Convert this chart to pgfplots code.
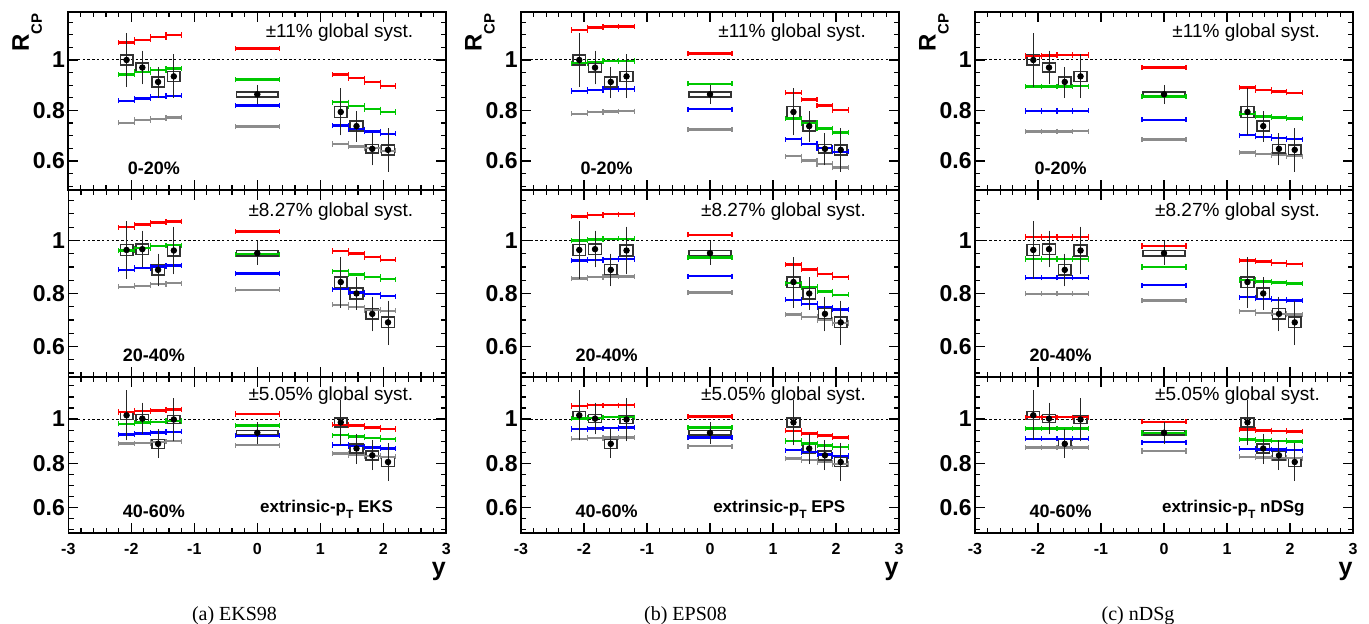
\documentclass[border=0pt]{standalone}
\usepackage{pgfplots}
\usepackage{pgfplotstable}
\pgfplotsset{compat=1.18}
\usepackage{fontspec}
\setmainfont{Liberation Sans}
\newfontfamily\capfont{Liberation Serif}

\definecolor{mred}{RGB}{255,0,0}
\definecolor{mgreen}{RGB}{0,200,0}
\definecolor{mblue}{RGB}{0,0,255}
\definecolor{mgray}{RGB}{140,140,140}

% ---------- data (same in every column) ----------
\pgfplotstableread{
x y ep em bx by
-2.075 1.000 0.097 0.099 0.10 0.019
-1.825 0.970 0.058 0.058 0.10 0.018
-1.575 0.913 0.050 0.055 0.10 0.020
-1.325 0.935 0.078 0.077 0.10 0.020
0      0.864 0.029 0.030 0.33 0.010
1.325  0.794 0.085 0.084 0.10 0.022
1.575  0.738 0.050 0.053 0.10 0.020
1.825  0.648 0.054 0.057 0.10 0.017
2.075  0.644 0.077 0.077 0.10 0.020
}\dataA
\pgfplotstableread{
x y ep em bx by
-2.075 0.964 0.100 0.101 0.10 0.020
-1.825 0.967 0.062 0.060 0.10 0.020
-1.575 0.889 0.053 0.054 0.10 0.020
-1.325 0.962 0.082 0.082 0.10 0.020
0      0.952 0.037 0.035 0.33 0.010
1.325  0.843 0.085 0.088 0.10 0.020
1.575  0.800 0.053 0.054 0.10 0.020
1.825  0.723 0.057 0.058 0.10 0.020
2.075  0.691 0.074 0.077 0.10 0.020
}\dataB
\pgfplotstableread{
x y ep em bx by
-2.075 1.017 0.103 0.103 0.10 0.018
-1.825 1.002 0.062 0.061 0.10 0.018
-1.575 0.888 0.057 0.055 0.10 0.020
-1.325 0.998 0.085 0.089 0.10 0.018
0      0.938 0.038 0.041 0.33 0.011
1.325  0.985 0.089 0.094 0.10 0.020
1.575  0.867 0.057 0.061 0.10 0.020
1.825  0.836 0.059 0.057 0.10 0.020
2.075  0.806 0.076 0.077 0.10 0.020
}\dataC

% ---------- model curves: EKS ----------
\pgfplotstableread{
x ex r g b k
-2.075 0.125 1.070 0.942 0.838 0.751
-1.825 0.125 1.080 0.952 0.847 0.762
-1.575 0.125 1.091 0.960 0.854 0.767
-1.325 0.125 1.099 0.966 0.858 0.772
0      0.35  1.046 0.922 0.820 0.736
1.325  0.125 0.942 0.833 0.740 0.667
1.575  0.125 0.928 0.818 0.726 0.657
1.825  0.125 0.912 0.805 0.717 0.651
2.075  0.125 0.897 0.794 0.708 0.640
}\mAa
\pgfplotstableread{
x ex r g b k
-2.075 0.125 1.050 0.962 0.889 0.825
-1.825 0.125 1.060 0.971 0.896 0.829
-1.575 0.125 1.067 0.980 0.902 0.835
-1.325 0.125 1.072 0.982 0.906 0.839
0      0.35  1.034 0.948 0.875 0.814
1.325  0.125 0.960 0.884 0.816 0.757
1.575  0.125 0.951 0.872 0.804 0.748
1.825  0.125 0.937 0.862 0.797 0.738
2.075  0.125 0.927 0.854 0.790 0.735
}\mBa
\pgfplotstableread{
x ex r g b k
-2.075 0.125 1.032 0.979 0.930 0.889
-1.825 0.125 1.036 0.985 0.935 0.891
-1.575 0.125 1.039 0.988 0.939 0.897
-1.325 0.125 1.044 0.991 0.942 0.900
0      0.35  1.023 0.971 0.924 0.882
1.325  0.125 0.974 0.927 0.883 0.844
1.575  0.125 0.970 0.921 0.877 0.838
1.825  0.125 0.962 0.915 0.871 0.833
2.075  0.125 0.955 0.909 0.867 0.829
}\mCa
% ---------- model curves: EPS ----------
\pgfplotstableread{
x ex r g b k
-2.075 0.125 1.119 0.987 0.877 0.787
-1.825 0.125 1.128 0.993 0.881 0.793
-1.575 0.125 1.132 0.996 0.885 0.796
-1.325 0.125 1.133 0.996 0.885 0.797
0      0.35  1.026 0.906 0.805 0.725
1.325  0.125 0.870 0.769 0.686 0.619
1.575  0.125 0.843 0.750 0.668 0.602
1.825  0.125 0.820 0.729 0.651 0.588
2.075  0.125 0.802 0.713 0.636 0.574
}\mAb
\pgfplotstableread{
x ex r g b k
-2.075 0.125 1.090 1.000 0.924 0.856
-1.825 0.125 1.096 1.004 0.926 0.861
-1.575 0.125 1.099 1.006 0.929 0.864
-1.325 0.125 1.099 1.006 0.930 0.864
0      0.35  1.021 0.936 0.865 0.803
1.325  0.125 0.909 0.839 0.776 0.721
1.575  0.125 0.890 0.824 0.761 0.711
1.825  0.125 0.873 0.808 0.748 0.700
2.075  0.125 0.861 0.795 0.739 0.689
}\mBb
\pgfplotstableread{
x ex r g b k
-2.075 0.125 1.059 1.003 0.955 0.911
-1.825 0.125 1.063 1.006 0.958 0.914
-1.575 0.125 1.063 1.008 0.959 0.916
-1.325 0.125 1.063 1.008 0.961 0.916
0      0.35  1.012 0.962 0.917 0.877
1.325  0.125 0.947 0.901 0.859 0.821
1.575  0.125 0.935 0.890 0.850 0.814
1.825  0.125 0.925 0.880 0.839 0.805
2.075  0.125 0.916 0.874 0.833 0.797
}\mCb
% ---------- model curves: nDSg ----------
\pgfplotstableread{
x ex r g b k
-2.075 0.125 1.016 0.895 0.798 0.717
-1.825 0.125 1.018 0.895 0.798 0.717
-1.575 0.125 1.020 0.895 0.798 0.717
-1.325 0.125 1.020 0.896 0.799 0.718
0      0.35  0.970 0.855 0.763 0.685
1.325  0.125 0.891 0.787 0.702 0.634
1.575  0.125 0.881 0.776 0.696 0.627
1.825  0.125 0.875 0.772 0.690 0.623
2.075  0.125 0.870 0.769 0.686 0.619
}\mAc
\pgfplotstableread{
x ex r g b k
-2.075 0.125 1.013 0.930 0.859 0.799
-1.825 0.125 1.013 0.930 0.859 0.799
-1.575 0.125 1.013 0.930 0.859 0.799
-1.325 0.125 1.013 0.930 0.859 0.799
0      0.35  0.979 0.900 0.831 0.773
1.325  0.125 0.925 0.851 0.786 0.733
1.575  0.125 0.920 0.845 0.780 0.726
1.825  0.125 0.915 0.841 0.776 0.723
2.075  0.125 0.910 0.838 0.774 0.720
}\mBc
\pgfplotstableread{
x ex r g b k
-2.075 0.125 1.008 0.958 0.911 0.872
-1.825 0.125 1.008 0.958 0.911 0.872
-1.575 0.125 1.008 0.958 0.911 0.872
-1.325 0.125 1.008 0.958 0.911 0.872
0      0.35  0.988 0.937 0.895 0.856
1.325  0.125 0.952 0.907 0.866 0.829
1.575  0.125 0.949 0.904 0.863 0.826
1.825  0.125 0.946 0.902 0.862 0.824
2.075  0.125 0.944 0.899 0.859 0.823
}\mCc

\pgfplotsset{
  rcpaxis/.style={
    scale only axis, width=189pt, anchor=north west,
    xmin=-3, xmax=3, ymin=0.485, ymax=1.19,
    xtick={-3,-2,-1,0,1,2,3}, minor x tick num=4,
    ytick={0.4,0.6,0.8,1,1.2}, minor y tick num=3,
    tick align=inside, xtick pos=both, ytick pos=both,
    xticklabel pos=lower, yticklabel pos=left,
    major tick length=5pt, minor tick length=2.6pt,
    axis line style={line width=0.8pt},
    every tick/.append style={line width=0.6pt, black},
    clip mode=individual,
    /pgf/number format/assume math mode=true,
    yticklabel style={font=\fontsize{11.5}{12}\selectfont\bfseries, inner sep=1.5pt},
    xticklabel style={font=\fontsize{8}{9}\selectfont\bfseries, inner sep=0pt, yshift=-5pt},
  },
  model/.style={draw=none, mark=none, forget plot,
    error bars/.cd, x dir=both, x explicit, error mark=|,
    error bar style={draw=#1, line width=1.2pt, line cap=butt},
    error mark options={draw=#1, line width=0.6pt, mark size=1.3pt}},
  boxh/.style={draw=none, mark=none, forget plot,
    error bars/.cd, x dir=both, x explicit, error mark=none,
    error bar style={draw=black!80, line width=0.75pt, line cap=rect}},
  boxv/.style={draw=none, mark=none, forget plot,
    error bars/.cd, y dir=both, y explicit, error mark=none,
    error bar style={draw=black!80, line width=0.75pt, line cap=rect}},
  datapts/.style={black, only marks, mark=*, mark size=1.4pt, forget plot,
    error bars/.cd, y dir=both, y explicit,
    error bar style={black!85, line width=0.5pt},
    error mark options={black!85, line width=0.5pt, mark size=1.1pt}},
}

\newcommand{\panelcontent}[2]{%
  \addplot[black, line width=0.5pt, dash pattern=on 1.2pt off 1.2pt, forget plot] coordinates {(-3,1) (3,1)};
  \addplot[boxh] table[x=x, y expr=\thisrow{y}+\thisrow{by}, x error=bx]{#2};
  \addplot[boxh] table[x=x, y expr=\thisrow{y}-\thisrow{by}, x error=bx]{#2};
  \addplot[boxv] table[x expr=\thisrow{x}-\thisrow{bx}, y=y, y error=by]{#2};
  \addplot[boxv] table[x expr=\thisrow{x}+\thisrow{bx}, y=y, y error=by]{#2};
  \addplot[model=mgray] table[x=x, y=k, x error=ex]{#1};
  \addplot[model=mblue] table[x=x, y=b, x error=ex]{#1};
  \addplot[model=mgreen] table[x=x, y=g, x error=ex]{#1};
  \addplot[model=mred] table[x=x, y=r, x error=ex]{#1};
  \addplot[datapts] table[x=x, y=y, y error plus=ep, y error minus=em]{#2};
}
\newcommand{\syst}[1]{\node[anchor=east, inner sep=0pt, font=\fontsize{9.5}{10}\selectfont] at (axis cs:2.48,1.107) {#1};}
\newcommand{\cent}[2]{\node[inner sep=0pt, font=\bfseries\fontsize{9}{10}\selectfont] at (axis cs:-1.64,#2) {#1};}
\newcommand{\rcp}{\node[rotate=90, anchor=base east, inner sep=0pt, font=\bfseries\fontsize{12}{12}\selectfont] at (axis description cs:-0.1045,0.994) {R\raisebox{-6.5pt}{\fontsize{7.5}{7.5}\selectfont CP}};}
\newcommand{\ylab}{\node[anchor=north east, inner sep=0pt, font=\bfseries\fontsize{12.5}{13}\selectfont] at (axis description cs:1,-0.185) {y};}
\newcommand{\model}[1]{\node[inner sep=0pt, font=\bfseries\fontsize{8.5}{10}\selectfont] at (axis cs:1.1,0.59) {extrinsic-p\raisebox{-3pt}{\fontsize{6}{6}\selectfont T} #1};}

\begin{document}
\begin{tikzpicture}
\useasboundingbox (0pt,0pt) rectangle (684.5pt,-311.5pt);

% ================= column a : EKS =================
\begin{axis}[rcpaxis, at={(34.15pt,-6pt)}, height=89pt, xticklabels={}]
  \panelcontent{\mAa}{\dataA}
  \syst{±11\% global syst.}
  \cent{0-20\%}{0.570}
  \rcp
\end{axis}
\begin{axis}[rcpaxis, at={(34.15pt,-95pt)}, height=93.5pt, xticklabels={}]
  \panelcontent{\mBa}{\dataB}
  \syst{±8.27\% global syst.}
  \cent{20-40\%}{0.567}
\end{axis}
\begin{axis}[rcpaxis, at={(34.15pt,-188.5pt)}, height=78pt]
  \panelcontent{\mCa}{\dataC}
  \syst{±5.05\% global syst.}
  \cent{40-60\%}{0.584}
  \model{EKS}
  \ylab
\end{axis}

% ================= column b : EPS =================
\begin{axis}[rcpaxis, at={(260.5pt,-6pt)}, height=89pt, xticklabels={}]
  \panelcontent{\mAb}{\dataA}
  \syst{±11\% global syst.}
  \cent{0-20\%}{0.570}
  \rcp
\end{axis}
\begin{axis}[rcpaxis, at={(260.5pt,-95pt)}, height=93.5pt, xticklabels={}]
  \panelcontent{\mBb}{\dataB}
  \syst{±8.27\% global syst.}
  \cent{20-40\%}{0.567}
\end{axis}
\begin{axis}[rcpaxis, at={(260.5pt,-188.5pt)}, height=78pt]
  \panelcontent{\mCb}{\dataC}
  \syst{±5.05\% global syst.}
  \cent{40-60\%}{0.584}
  \model{EPS}
  \ylab
\end{axis}

% ================= column c : nDSg =================
\begin{axis}[rcpaxis, at={(487.5pt,-6pt)}, height=89pt, xticklabels={}]
  \panelcontent{\mAc}{\dataA}
  \syst{±11\% global syst.}
  \cent{0-20\%}{0.570}
  \rcp
\end{axis}
\begin{axis}[rcpaxis, at={(487.5pt,-95pt)}, height=93.5pt, xticklabels={}]
  \panelcontent{\mBc}{\dataB}
  \syst{±8.27\% global syst.}
  \cent{20-40\%}{0.567}
\end{axis}
\begin{axis}[rcpaxis, at={(487.5pt,-188.5pt)}, height=78pt]
  \panelcontent{\mCc}{\dataC}
  \syst{±5.05\% global syst.}
  \cent{40-60\%}{0.584}
  \model{nDSg}
  \ylab
\end{axis}

% captions
\node[anchor=base, inner sep=0pt, font=\capfont\fontsize{10}{12}\selectfont] at (117.25pt,-310pt) {(a) EKS98};
\node[anchor=base, inner sep=0pt, font=\capfont\fontsize{10}{12}\selectfont] at (342.75pt,-310pt) {(b) EPS08};
\node[anchor=base, inner sep=0pt, font=\capfont\fontsize{10}{12}\selectfont] at (569pt,-310pt) {(c) nDSg};
\end{tikzpicture}
\end{document}
